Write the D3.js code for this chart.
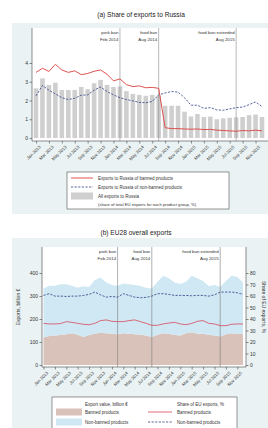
<!DOCTYPE html>
<html>
<head>
<meta charset="utf-8">
<script src="https://cdn.jsdelivr.net/npm/d3@7"></script>
<style>
  body { margin: 0; background: #fff; }
  svg { display: block; font-family: "Liberation Sans", Arial, sans-serif; }
  .axis text { fill: #333; }
  .axis line, .axis path { stroke: #444; stroke-width: 0.6; }
</style>
</head>
<body>
<svg id="chart" width="268" height="428"></svg>
<script>
// monthly data, Jan 2013 - Dec 2015
const months = ['Jan 2013','Feb 2013','Mar 2013','Apr 2013','May 2013','Jun 2013','Jul 2013','Aug 2013','Sep 2013','Oct 2013','Nov 2013','Dec 2013',
  'Jan 2014','Feb 2014','Mar 2014','Apr 2014','May 2014','Jun 2014','Jul 2014','Aug 2014','Sep 2014','Oct 2014','Nov 2014','Dec 2014',
  'Jan 2015','Feb 2015','Mar 2015','Apr 2015','May 2015','Jun 2015','Jul 2015','Aug 2015','Sep 2015','Oct 2015','Nov 2015','Dec 2015'];

// (a) share of exports going to Russia, %
const allShareRu = [2.65,3.18,2.83,2.95,2.56,2.56,2.56,2.72,2.6,2.92,3.1,2.83,2.72,2.75,2.5,2.35,2.3,2.25,2.3,2.25,
  1.72,1.72,1.72,1.4,1.15,1.28,1.12,1.14,1.0,1.05,1.08,1.1,1.12,1.22,1.25,1.12];
const bannedShareRu = [3.5,3.72,3.55,3.93,3.63,3.5,3.58,3.38,3.44,3.56,3.63,3.4,3.05,3.15,2.85,2.74,2.78,2.68,2.7,2.65,
  0.55,0.5,0.5,0.48,0.47,0.48,0.45,0.46,0.42,0.4,0.38,0.36,0.4,0.38,0.42,0.38];
const nonBannedShareRu = [2.25,2.8,2.55,2.35,2.15,2.05,2.12,2.28,2.3,2.55,2.72,2.48,2.3,2.15,2.05,1.98,1.9,1.88,1.95,2.3,
  2.4,2.48,2.45,2.15,1.75,1.75,1.58,1.62,1.5,1.48,1.55,1.62,1.65,1.78,1.92,1.68];

// (b) EU28 exports, billion euro and share of EU exports, %
const bannedValue = [120,126,128,130,134,138,132,122,130,136,140,138,136,134,138,136,134,132,128,122,
  132,138,136,130,128,138,142,136,136,132,128,124,134,138,136,134];
const nonBannedValue = [213,219,217,221,217,207,204,220,209,234,240,221,212,211,216,215,214,211,208,211,
  230,250,241,229,224,224,246,241,229,210,220,215,231,250,247,225];
const bannedShareEU = [36.2,35.7,35.7,36,37.7,37.1,36.2,35.4,35,36.2,38.6,39.2,38,37.7,37.7,38.6,39.2,37.7,36.2,34.5,
  34.5,35.7,36.5,37.1,35.7,35,36.2,38,38.6,36.2,35.7,34.2,34.2,35.4,35.7,35.7];
const nonBannedShareEU = [60.5,62,59.9,59.9,59.6,59.9,59.9,60.5,61.4,63.4,61,59,59.6,59,62,60.5,59,58.5,58.8,59.9,
  62,62,61.4,60.5,60.5,60.5,60.2,60.5,60.5,59.9,61,63.4,63.4,63.4,62.8,61.4];

const eventMonths = [13, 19, 31];
const eventLabels = [['pork ban','Feb 2014'],['food ban','Aug 2014'],['food ban extended','Aug 2015']];
const yTicksA = [0,1,2,3,4];
const yTicksB = [0,100,200,300,400];
const yTicksB2 = [0,10,20,30,40,50,60,70,80];

const bg = '#eaf2f3', red = '#d9413c', navy = '#2f3f86';
const svg = d3.select('#chart');
const idx = months.map((d, i) => i);
const tickIdx = idx.filter(i => i % 2 === 0);

// ---------- panel (a) ----------
svg.append('text').attr('x', 141).attr('y', 17).attr('text-anchor', 'middle')
  .attr('font-size', 6.6).attr('fill', '#222').text('(a) Share of exports to Russia');
svg.append('rect').attr('x', 12).attr('y', 23).attr('width', 256).attr('height', 191).attr('fill', bg);

const pa = { left: 32, right: 268, top: 28, bottom: 141 };
svg.append('rect').attr('x', pa.left).attr('y', pa.top)
  .attr('width', pa.right - pa.left).attr('height', pa.bottom - pa.top).attr('fill', '#fff');

const xa = d3.scaleLinear().domain([0, 35]).range([36, 262]);
const ya = d3.scaleLinear().domain([0, 4]).range([138, 63]);

const ga = svg.append('g');
ga.selectAll('.bar').data(allShareRu).enter().append('rect')
  .attr('class', 'bar')
  .attr('x', (d, i) => xa(i) - 2.3)
  .attr('width', 4.6)
  .attr('y', d => ya(d))
  .attr('height', d => ya(0) - ya(d))
  .attr('fill', '#cfcfcf');

ga.selectAll('.evt').data(eventMonths).enter().append('line')
  .attr('x1', d => xa(d)).attr('x2', d => xa(d))
  .attr('y1', pa.top).attr('y2', pa.bottom)
  .attr('stroke', '#8a8a8a').attr('stroke-width', 0.6);
eventMonths.forEach((m, k) => {
  eventLabels[k].forEach((s, j) => {
    ga.append('text').attr('x', xa(m) - 1.5).attr('y', 34 + j * 6.5)
      .attr('text-anchor', 'end').attr('font-size', 4.4).attr('fill', '#333').text(s);
  });
});

const lineA = arr => d3.line().x((d, i) => xa(i)).y(d => ya(d))(arr);
ga.append('path').attr('d', lineA(nonBannedShareRu)).attr('fill', 'none')
  .attr('stroke', navy).attr('stroke-width', 0.8).attr('stroke-dasharray', '2.2,1.4');
ga.append('path').attr('d', lineA(bannedShareRu)).attr('fill', 'none')
  .attr('stroke', red).attr('stroke-width', 0.9);

svg.append('g').attr('class', 'axis').attr('transform', `translate(${pa.left},0)`)
  .call(d3.axisLeft(ya).tickValues(yTicksA).tickFormat(d3.format('d')).tickSize(2.5).tickPadding(1.5))
  .call(g => g.select('.domain').attr('d', `M0,${pa.top}V${pa.bottom}`))
  .selectAll('text').attr('font-size', 5);

svg.append('g').attr('class', 'axis').attr('transform', `translate(0,${pa.bottom})`)
  .call(d3.axisBottom(xa).tickValues(tickIdx).tickFormat(i => months[i]).tickSize(2.5))
  .call(g => g.select('.domain').attr('d', `M${pa.left},0H${pa.right}`))
  .selectAll('text').attr('font-size', 4.3)
  .attr('text-anchor', 'end').attr('dx', '-0.3em').attr('dy', '0.5em')
  .attr('transform', 'rotate(-45)');

// legend (a)
const la = svg.append('g').attr('transform', 'translate(67,172)');
la.append('rect').attr('width', 162).attr('height', 37).attr('fill', '#fff')
  .attr('stroke', '#333').attr('stroke-width', 0.5);
la.append('line').attr('x1', 4).attr('x2', 26).attr('y1', 6).attr('y2', 6)
  .attr('stroke', red).attr('stroke-width', 0.9);
la.append('line').attr('x1', 4).attr('x2', 26).attr('y1', 15).attr('y2', 15)
  .attr('stroke', navy).attr('stroke-width', 0.8).attr('stroke-dasharray', '2.2,1.4');
la.append('rect').attr('x', 4).attr('y', 20.5).attr('width', 22).attr('height', 7).attr('fill', '#cfcfcf');
[['Exports to Russia of banned products', 7.6, 4.5],
 ['Exports to Russia of non-banned products', 16.6, 4.5],
 ['All exports to Russia', 25.6, 4.5],
 ['(share of total EU exports for each product group, %)', 33.6, 4.2]].forEach(t => {
  la.append('text').attr('x', 31).attr('y', t[1]).attr('font-size', t[2]).attr('fill', '#333').text(t[0]);
});

// ---------- panel (b) ----------
svg.append('text').attr('x', 136).attr('y', 235).attr('text-anchor', 'middle')
  .attr('font-size', 6.6).attr('fill', '#222').text('(b) EU28 overall exports');
svg.append('rect').attr('x', 12).attr('y', 238).attr('width', 256).attr('height', 190).attr('fill', bg);

const pb = { left: 42, right: 246, top: 247, bottom: 367 };
svg.append('rect').attr('x', pb.left).attr('y', pb.top)
  .attr('width', pb.right - pb.left).attr('height', pb.bottom - pb.top).attr('fill', '#fff');

const xb = d3.scaleLinear().domain([0, 35]).range([43.5, 243]);
const yb = d3.scaleLinear().domain([0, 400]).range([365, 273]);
const yb2 = d3.scaleLinear().domain([0, 80]).range([365, 273]);

const table = idx.map(i => ({ i, banned: bannedValue[i], nonbanned: nonBannedValue[i] }));
const stack = d3.stack().keys(['banned', 'nonbanned'])(table);
const area = d3.area().x(d => xb(d.data.i)).y0(d => yb(d[0])).y1(d => yb(d[1]));
const gb = svg.append('g');
gb.selectAll('.layer').data(stack).enter().append('path')
  .attr('d', area)
  .attr('fill', (d, k) => k === 0 ? '#d9c2ba' : '#cfe8f3');

gb.selectAll('.evt').data(eventMonths).enter().append('line')
  .attr('x1', d => xb(d)).attr('x2', d => xb(d))
  .attr('y1', pb.top).attr('y2', pb.bottom)
  .attr('stroke', '#7a7a7a').attr('stroke-width', 0.6);
eventMonths.forEach((m, k) => {
  eventLabels[k].forEach((s, j) => {
    gb.append('text').attr('x', xb(m) - 1.5).attr('y', 253 + j * 6.5)
      .attr('text-anchor', 'end').attr('font-size', 4.4).attr('fill', '#333').text(s);
  });
});

const lineB = arr => d3.line().x((d, i) => xb(i)).y(d => yb2(d))(arr);
gb.append('path').attr('d', lineB(nonBannedShareEU)).attr('fill', 'none')
  .attr('stroke', navy).attr('stroke-width', 0.8).attr('stroke-dasharray', '2.2,1.4');
gb.append('path').attr('d', lineB(bannedShareEU)).attr('fill', 'none')
  .attr('stroke', '#d8475a').attr('stroke-width', 0.8);

svg.append('g').attr('class', 'axis').attr('transform', `translate(${pb.left},0)`)
  .call(d3.axisLeft(yb).tickValues(yTicksB).tickSize(2.5).tickPadding(1.5))
  .call(g => g.select('.domain').attr('d', `M0,${pb.top}V${pb.bottom}`))
  .selectAll('text').attr('font-size', 5);
svg.append('g').attr('class', 'axis').attr('transform', `translate(${pb.right},0)`)
  .call(d3.axisRight(yb2).tickValues(yTicksB2).tickSize(2.5).tickPadding(1.5))
  .call(g => g.select('.domain').attr('d', `M0,${pb.top}V${pb.bottom}`))
  .selectAll('text').attr('font-size', 5);
svg.append('g').attr('class', 'axis').attr('transform', `translate(0,${pb.bottom})`)
  .call(d3.axisBottom(xb).tickValues(tickIdx).tickFormat(i => months[i]).tickSize(2.5))
  .call(g => g.select('.domain').attr('d', `M${pb.left},0H${pb.right}`))
  .selectAll('text').attr('font-size', 4.3)
  .attr('text-anchor', 'end').attr('dx', '-0.3em').attr('dy', '0.5em')
  .attr('transform', 'rotate(-45)');

svg.append('text').attr('transform', 'translate(20,307) rotate(-90)').attr('text-anchor', 'middle')
  .attr('font-size', 5).attr('fill', '#333').text('Exports, billion €');
svg.append('text').attr('transform', 'translate(262,307) rotate(90)').attr('text-anchor', 'middle')
  .attr('font-size', 5).attr('fill', '#333').text('Share of EU exports, %');

// legend (b)
const lb = svg.append('g').attr('transform', 'translate(52,397)');
lb.append('rect').attr('width', 185).attr('height', 33).attr('fill', '#fff')
  .attr('stroke', '#333').attr('stroke-width', 0.5);
lb.append('text').attr('x', 33).attr('y', 8.5).attr('font-size', 4.5).attr('fill', '#333').text('Export value, billion €');
lb.append('text').attr('x', 125).attr('y', 8.5).attr('font-size', 4.5).attr('fill', '#333').text('Share of EU exports, %');
lb.append('rect').attr('x', 4).attr('y', 11.5).attr('width', 26).attr('height', 7).attr('fill', '#d9c2ba');
lb.append('rect').attr('x', 4).attr('y', 21.5).attr('width', 26).attr('height', 7).attr('fill', '#cfe8f3');
lb.append('line').attr('x1', 96).attr('x2', 120).attr('y1', 15).attr('y2', 15)
  .attr('stroke', '#d8475a').attr('stroke-width', 0.8);
lb.append('line').attr('x1', 96).attr('x2', 120).attr('y1', 25).attr('y2', 25)
  .attr('stroke', navy).attr('stroke-width', 0.8).attr('stroke-dasharray', '2.2,1.4');
[['Banned products', 33, 16.6], ['Non-banned products', 33, 26.6],
 ['Banned products', 125, 16.6], ['Non-banned products', 125, 26.6]].forEach(t => {
  lb.append('text').attr('x', t[1]).attr('y', t[2]).attr('font-size', 4.5).attr('fill', '#333').text(t[0]);
});
</script>
</body>
</html>
